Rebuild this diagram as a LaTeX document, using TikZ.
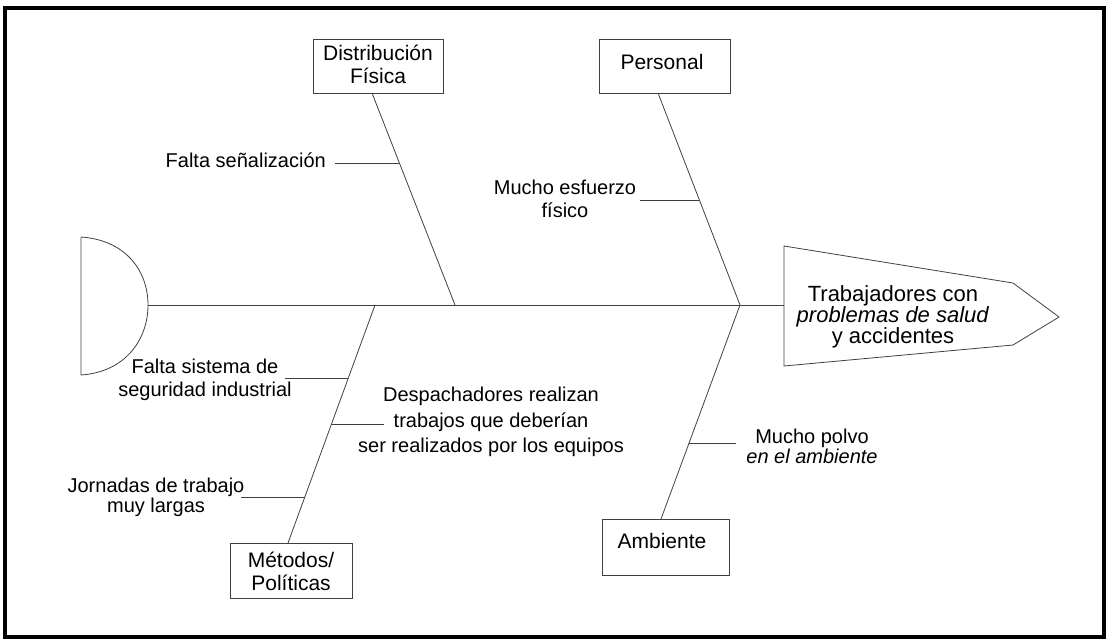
\documentclass[tikz,border=0pt]{standalone}
\usepackage{fontspec}
\setmainfont{Liberation Sans}
\usetikzlibrary{calc}
\begin{document}
\begin{tikzpicture}[x=1pt,y=-1pt,
  thin line/.style={draw=black!75, line width=0.8pt},
  catbox/.style={thin line, minimum width=#1, minimum height=54pt, inner sep=0pt},
  boxtext/.style={font=\fontsize{21}{23}\selectfont, align=center, inner sep=0pt},
  lbl/.style={font=\fontsize{20}{23}\selectfont, align=center, inner sep=0pt},
  headtext/.style={font=\fontsize{22}{21}\selectfont, align=center, inner sep=0pt},
]
\useasboundingbox (0,0) rectangle (1114,641);
% outer frame
\draw[line width=4pt] (5,8) rectangle (1104,637);

% tail of the fish
\draw[thin line] (81,237) -- (81,375)
  .. controls (125,372) and (148,340) .. (148,305)
  .. controls (148,270) and (125,240) .. (81,237);

% head with the effect
\draw[thin line] (784,246) -- (1013,283) -- (1059,317) -- (1013,345) -- (784,366) -- cycle;
\node[headtext] (effect) at (893,317) {Trabajadores con\\\textit{problemas de salud}\\y accidentes};

% spine
\coordinate (tail) at (148,305);
\coordinate (headL) at (784,305);
\draw[thin line] (tail) -- (headL);

% category boxes
\node[catbox=130pt] (dist) at (378,66) {};
\node[boxtext] (distT) at (378,64) {Distribución\\Física};
\node[catbox=131pt] (pers) at (664.5,66) {};
\node[boxtext] (persT) at (662,62) {Personal};
\node[catbox=122pt, minimum height=55pt] (met) at (291,570.5) {};
\node[boxtext] (metT) at (291,571) {Métodos/\\Políticas};
\node[catbox=127pt, minimum height=56pt] (amb) at (665.5,547) {};
\node[boxtext] (ambT) at (662,541) {Ambiente};

% bones
\coordinate (distTop) at (372,93);
\coordinate (distJ) at (455,305);
\coordinate (persTop) at (658,93);
\coordinate (persJ) at (740,305);
\coordinate (metTop) at (288,543);
\coordinate (metJ) at (375,305);
\coordinate (ambTop) at (661,519);
\coordinate (ambJ) at (740,305);
\draw[thin line] (distTop) -- (distJ);
\draw[thin line] (persTop) -- (persJ);
\draw[thin line] (metTop) -- (metJ);
\draw[thin line] (ambTop) -- (ambJ);

% causes
\node[lbl, anchor=east] (c1) at (326,160) {Falta señalización};
\coordinate (c1b) at (399,163);
\draw[thin line] (c1b) -- ++(-64,0);

\node[lbl] (c2) at (565,199) {Mucho esfuerzo\\físico};
\coordinate (c2b) at (699,200);
\draw[thin line] (c2b) -- ++(-59,0);

\node[lbl] (c3) at (205,380) {Falta sistema de\\seguridad industrial};
\coordinate (c3b) at (348,378);
\draw[thin line] (c3b) -- ++(-63,0);

\node[lbl, font=\fontsize{20}{25.5}\selectfont] (c4) at (491,422) {Despachadores realizan\\trabajos que deberían\\ser realizados por los equipos};
\coordinate (c4b) at (332,424);
\draw[thin line] (c4b) -- ++(52,0);

\node[lbl, font=\fontsize{20}{20}\selectfont] (c5) at (156,497) {Jornadas de trabajo\\muy largas};
\coordinate (c5b) at (305,497);
\draw[thin line] (c5b) -- ++(-64,0);

\node[lbl, font=\fontsize{20}{20}\selectfont] (c6) at (812,446) {Mucho polvo\\\textit{en el ambiente}};
\coordinate (c6b) at (689,443);
\draw[thin line] (c6b) -- ++(47,0);
\end{tikzpicture}
\end{document}
